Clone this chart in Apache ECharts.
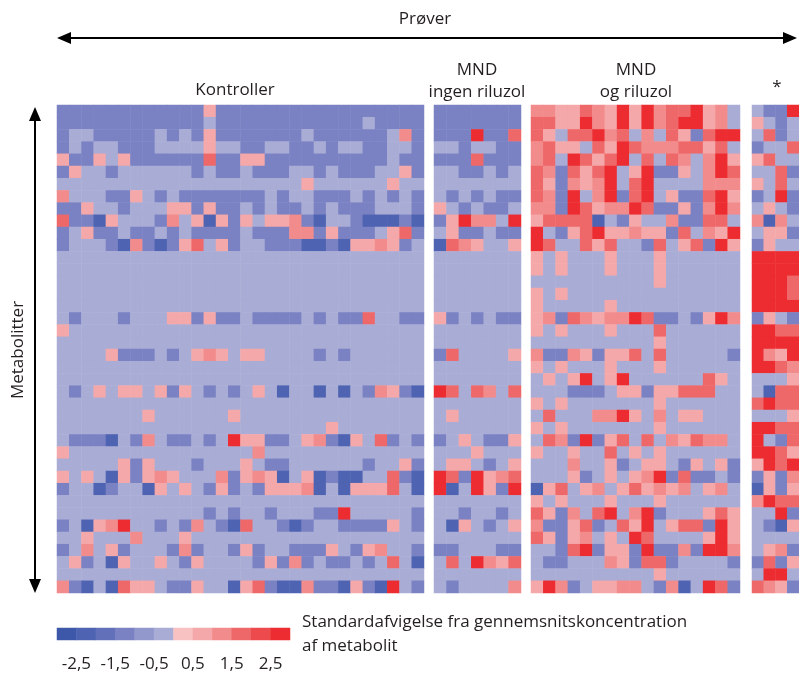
<!DOCTYPE html>
<html><head><meta charset="utf-8">
<script src="https://cdn.jsdelivr.net/npm/echarts@6/dist/echarts.min.js"></script>
<style>html,body{margin:0;padding:0;background:#fff}#c{width:799px;height:676px}</style>
</head><body><div id="c"></div>
<script>
// ---- data (standard deviations from mean concentration) ----
const groupTitles = ['Kontroller', 'MND\ningen riluzol', 'MND\nog riluzol', '*'];
const axisTitleX = 'Prøver';
const axisTitleY = 'Metabolitter';
const legendTitle = 'Standardafvigelse fra gennemsnitskoncentration\naf metabolit';
const legendTicks = ['-2,5', '-1,5', '-0,5', '0,5', '1,5', '2,5'];
const legendValues = [-2.75, -2.25, -1.75, -1.25, -0.75, -0.25, 0.25, 0.75, 1.25, 1.75, 2.25, 2.75];
const pieceEdges = [-3, -2.5, -2, -1.5, -1, -0.5, 0, 0.5, 1, 1.5, 2, 2.5, 3];

const kontroller = [
[-1,-1,-1,-1,-1,-1,-1,-1,-1,-1,-1,-1,1,-1,-1,-1,-1,-1,-1,-1,-1,-1,-1,-1,-1,-1,-1,-1,-1,-1],
[-1,-1,-1,-1,-1,-1,-1,-1,-1,-1,-1,-1,0,-1,-1,-1,-1,-1,-1,-1,-1,-1,-1,-1,-1,0,-1,-1,-1,-1],
[-1,0,0,-1,-1,-1,-1,-1,0,-1,0,-1,1,-1,-1,-1,-1,-1,-1,-1,0,-1,-1,-1,-1,-1,-1,0,1.5,-1],
[-1,0,-1,0,0,-1,-1,-1,0,0,0,0,1,0,0,-1,-1,0,0,-1,-1,0,-1,0,0,-1,-1,0,0,-1],
[1,-1,-1,1,0,1,-1,-1,-1,-1,-1,-1,2,-1,-1,1,1,-1,-1,-1,-1,-1,-1,-1,-1,-1,-1,0,-1,-1],
[-1,1,0,0,-1,0,0,0,0,0,0,-1,0,-1,-1,0,-1,-1,-1,0,0,-1,0,-1,-1,-1,0,0,1,-1],
[0,0,0,0,0,0,0,0,0,0,0,0,0,0,0,0,0,0,0,0,1,0,0,0,0,0,0,1,0,0],
[1.5,0,0,0,-1,-1,1,0,-1,0,-1,-1,-1,-1,-1,-1,-1,0,-1,0,0,-1,-1,-1,0,-1,0,-1,0,-1],
[-1,-1,1,0,0,-1,0,0,0,1,1,-1,1,-1,-1,0,-1,0,-1,-1,0,-1,0,-1,-1,-1,0,0,0,-1],
[2,-1,-1,-2,1,0,0,0,-1,1.5,0,1,-2,1,-1,1,0,1,1,1.5,-1,-2,0,0,-1,-2,-2,-2,-1,-2],
[-1,0,1,-1,-1,0,-1,-1,0,-1,0,-1,-1,-1,-1,0,-1,-1,-1,1.5,1.5,-1,1,-1,-1,-1,0,1,2,-1],
[-1,0,0,0,-1,-2,1.5,-1,-2,-1,1,2,0,1,-1,0,0,-1,-1,-1,-2,-2,-1,-2,1,1,1.5,1,-1,0],
[0,0,0,0,0,0,0,0,0,0,0,0,0,0,0,0,0,0,0,0,0,0,0,0,0,0,0,0,0,0],
[0,0,0,0,0,0,0,0,0,0,0,0,0,0,0,0,0,0,0,0,0,0,0,0,0,0,0,0,0,0],
[0,0,0,0,0,0,0,0,0,0,0,0,0,0,0,0,0,0,0,0,0,0,0,0,0,0,0,0,0,0],
[0,0,0,0,0,0,0,0,0,0,0,0,0,0,0,0,0,0,0,0,0,0,0,0,0,0,0,0,0,0],
[0,0,0,0,0,0,0,0,0,0,0,0,0,0,0,0,0,0,0,0,0,0,0,0,0,0,0,0,0,0],
[0,-1,0,0,0,-1,0,0,0,1,1,-1,1,-1,-1,0,-1,-1,-1,-1,0,-1,0,-1,-1,2,0,0,-1,-1],
[1,0,0,0,0,0,0,0,0,0,0,0,0,0,0,0,0,0,0,0,0,0,0,0,0,0,0,0,0,0],
[0,0,0,0,0,0,0,0,0,0,0,0,0,0,0,0,0,0,0,0,0,0,0,0,0,0,0,0,0,0],
[0,0,0,0,1,-1,-1,-1,0,-1,0,1,1.5,1,0,1,1,0,0,0,0,-1,0,-1,0,0,0,0,0,0],
[0,0,0,0,0,0,0,0,0,0,0,0,0,0,0,0,0,0,0,0,0,0,0,0,0,0,0,0,0,0],
[0,0,0,0,0,0,0,0,0,0,0,0,0,0,0,0,0,0,0,0,0,0,0,0,0,0,0,0,0,0],
[0,-1,0,1,0,1,1,0,1,-1,1,0,-1,0,-1,0,1,0,-2,0,0,-2,0,-2,0,-1,1.5,1,-1,-2],
[0,0,0,0,0,0,0,0,0,0,0,0,0,0,0,0,0,0,0,0,0,0,0,0,0,0,0,0,0,0],
[0,0,0,0,0,0,0,1,0,0,0,0,0,0,1,0,0,0,0,0,0,0,0,0,0,0,0,0,0,0],
[0,0,0,0,0,0,0,0,0,0,0,0,0,0,0,0,0,0,0,0,0,0,1,0,0,0,0,0,0,0],
[0,-1,-1,-1,-2,0,-1,1.5,0,-1,-1,0,-1,0,3,1,1,-1,-1,0,1,1.5,-1,-2,1,0,2,-1,0,-1],
[1,0,0,0,0,0,0,0,0,0,0,0,0,0,0,0,1.5,0,0,0,0,0,0,0,0,0,0,0,0,0],
[0,0,0,0,0,1,-1,1,0,0,0,-1,0,0,0,1,0,-1,-1,0,0,0,0,0,0,-1,0,0,1,-1],
[1,0,1,0,-2,1,-1,1,1.5,1,0,0,0,1.5,-1,1,1.5,1,-2,0,1,-2,-1,-2,-2,0,0,2,-1,-2],
[-1,0,0,-2,-1,0,0,-2,1,0,1,0,-1,1,-1,0,-1,1,1,1,1.5,-2,0,-2,1,1,1,2,0,-2],
[0,0,0,0,0,0,0,0,0,0,0,0,0,0,0,0,0,0,0,0,0,0,0,0,0,0,0,0,0,0],
[0,0,0,0,0,0,0,0,0,0,0,0,-1,0,-1,0,0,-1,0,0,0,-1,-1,3,0,0,0,0,0,-1],
[-1,0,-2,1,1.5,3,0,0,-1,0,-1,1.5,0,-1,-2,2,0,0,-1,-2,-1,0,0,-1,-1,-1,-1,1,0,-1],
[0,0,1,0,0,0,1.5,0,0,0,1,0,0,0,0,0,0,0,0,0,0,0,0,0,0,0,0,0,0,0],
[-1,0,1.5,0,1,-1,0,0,0,-1,1.5,-1,0,0,-1,1,-1,0,0,-1,-1,-1,1,0,-1,1,1.5,0,0,-1],
[0,1,-1,0,-2,1,0,0,1,0,-1,1,0,0,0,0,-1,1,-1,1.5,-1,0,-1,-1,0,-1,0,2,0,-2],
[0,0,0,0,0,0,0,0,0,0,0,0,0,0,0,0,0,0,0,0,0,0,0,0,0,0,0,0,0,0],
[1.5,-1,-2,0,-2,2,1,1,0,-1,-1,1,0,0,-2,1,2,-1,-2,-2,1.5,-1,-1,-2,1,-1,-2,3,0,-1]
];

const mndUdenRiluzol = [
[-1,-1,-1,-1,-1,-1,-1],[-1,-1,-1,-1,-1,-1,-1],[-1,-1,-1,3,-1,-1,2],[0,0,-1,0,0,-1,-1],
[-1,-1,-1,2,-1,-1,-1],[0,0,-1,-1,0,-1,0],[0,0,0,0,0,0,0],[0,-1,0,-1,0,-1,-1],
[1,0,-1,0,-1,-1,0],[-1,1,3,1.5,1.5,0,3],[0,1,-1,-1,0,-1,-1],[-2,2,1.5,1,0,0,1],
[0,0,0,0,0,0,0],[0,0,0,0,0,0,0],[0,0,0,0,0,0,0],[0,0,0,0,0,0,0],
[0,0,0,0,0,0,0],[1,-1,0,-1,0,-1,-1],[0,0,0,0,0,0,0],[0,0,0,0,0,0,0],
[-1,2,0,0,0,0,1],[0,0,0,0,0,0,0],[0,0,0,0,0,0,0],[3,2,0,2,1.5,0,2],
[0,0,0,0,0,0,0],[0,1,0,0,0,0,0],[0,0,0,0,0,0,0],[-1,0,1,0,-1,-1,1],
[0,0,0,1,0,0,0],[0,1,1,0,-1,0,1],[3,2,-1,3,1,1.5,2],[3,-2,0,3,1,-1,3],
[0,0,0,0,0,0,0],[0,0,-1,0,0,-1,0],[0,-2,1,0,-1,0,1],[0,0,0,0,0,0,0],
[-1,-1,0,0,0,-1,-1],[0,2,0,3,1.5,1,2],[0,0,0,0,0,0,0],[0,-1,0,0,0,0,1.5]
];

const mndMedRiluzol = [
[1.5,1.5,1,1,2,1.5,1,3,1,3,1.5,2,2,3,1,1.5,0],
[2,2,1,1,3,1.5,1,3,1,3,1.5,2,3,3,1,1.5,0],
[2,1,0,2,2,3,1.5,2,0,1.5,0,2,1,-1,2,3,3],
[1.5,2,1,1,0,2,1,3,2,1.5,1.5,1.5,2,2,1,2,0],
[1.5,2,0,3,2,1,2,3,0,2,0,2,1.5,0,1.5,3,1],
[2,1.5,-1,2,1,2,3,0,1,3,-1,-1,1,0,1.5,3,2],
[2,1,-1,1.5,1,1.5,3,0,2,3,0,0,0,0,1.5,1.5,1.5],
[2,1.5,-1,3,0,1.5,3,-1,2,3,0,1,-1,-1,2,3,1],
[1.5,1.5,-1,3,2,1,1.5,1.5,3,2,-1,-1,1,-1,1.5,3,1.5],
[1,2,2,2,2,-2,0,-1,1,0,0,1.5,-1,-1,2,2,0],
[3,0,-1,1,2,3,1,1,1.5,1,1,-1,2,0,1.5,1,3],
[3,2,0,0,2,1,2,0,0,-1,2,0,1,2,-1,3,1],
[1,0,1,0,0,0,1,0,0,0,1,0,0,0,0,0,0],
[1,0,1,0,0,0,1,0,0,0,1,0,0,0,0,0,0],
[0,0,0,0,0,0,0,0,0,0,1,0,0,0,0,0,0],
[1,0,1,0,0,0,0,0,0,0,0,0,0,0,0,0,0],
[1,0,0,0,0,0,1,0,0,0,0,0,0,0,0,0,0],
[1,1.5,-1,2,1.5,1,1.5,1.5,3,2,-1,-1,0,-1,1,3,1.5],
[1,0,1,0,0,0,1,0,0,0,2,0,0,0,0,0,0],
[0,0,0,0,0,0,0,0,0,0,1,0,0,0,0,0,0],
[1.5,-1,-1,1.5,1,-1,1,1,2,0,2,0,0,0,0,0,-1],
[1,0,1,0,0,0,1,0,0,0,1,0,0,0,0,0,0],
[0,1,0,1,3,0,1,3,0,0,0,0,0,0,2,1,0],
[0,0,0,-1,-1,-1,0,1,1,-1,1,1,2,2,2,0,0],
[1,0,1,0,0,0,0,0,0,0,1,0,0,0,0,0,0],
[0,2,0,0,0,1.5,1.5,3,1,0,1.5,0,1,1,0,0,0],
[1,0,1,0,0,0,0,0,0,0,1,0,0,0,0,0,0],
[0,2,1.5,-1,3,-1,1,2,0,2,0,1.5,1,2,1.5,1.5,0],
[1,0,0,1,0,0,2,0,1,0,1,0,0,0,0,0,0],
[0,0,0,1.5,0,0,1,-1,0,1,1,0,-1,1,0,1,-1],
[0,0,0,1,-1,0,1,0,1,1.5,3,-1,2,-1,-1,0,-1],
[-2,1,2,0,1,1.5,0,1,2,1,1.5,1,1.5,0,1,1.5,0],
[1,0,1,0,0,0,1,0,0,0,1,0,0,0,0,0,0],
[2,1,-1,1.5,0,2,3,0,1.5,3,-1,0,0,0,1,2,1],
[1.5,-1,-1,1,2,-1,0,2,1,3,0,1,2,2,-1,3,1],
[2,1,-1,1,1.5,0,1,0,3,2,0,0,0,0,1,3,1],
[0,0,-1,2,3,-1,1,1,-1,3,-1,-1,1.5,-1,3,3,1.5],
[0,-1,-1,0,0,0,1.5,1,-1,2,2,-1,0,0,0,0,-1],
[0,0,0,0,0,0,0,0,0,0,1,0,0,0,0,0,0],
[1,3,1.5,-1,0,1,1,1.5,1.5,0,-1,1.5,-2,0,3,2,-1]
];

const stjerne = [
[0,-1,-1,3],[1,0,-1,0],[0,2,-1,0],[-1,0,0,2],[1,2,0,0],[0,0,2,-1],[1,0,2,0],[-1,0,3,-1],
[0,1,0,-1],[1.5,-2,1.5,0],[0,1,1,-1],[-1,1,0,0],[3,3,3,3],[3,3,3,3],[3,3,3,2],[3,3,3,2],
[3,3,3,3],[-1,1,0,-1],[3,3,2,2],[3,3,3,3],[3,1.5,1,3],[3,3,2,1.5],[0,0,0,1],[0,-2,2,2],
[2,3,2,2],[0,0,0,1],[3,3,2,2],[3,0,-1,2],[3,3,2,1],[1,3,2,3],[-1,1,-1,1.5],[-2,1,-1,1],
[1.5,3,2,2],[0,0,3,-1],[0,-1,-2,1],[0,0,0,0],[0,1,1.5,-1],[-1,2,-1,1],[0,3,3,0],[2,1.5,1,-1]
];

// ---- styling ----
const pieceColors = ['#3d58a8','#4e63b1','#6270ba','#7a82c3','#9298cc','#a9acd5',
                     '#f8c2c2','#f5a8a9','#f28b8c','#ef6869','#ed4a4d','#ec2c30'];
const FONT = '"Open Sans", "Noto Sans", sans-serif';
const FONT_SIZE = 17;
const TXT = '#231f20';

const groupMatrices = [kontroller, mndUdenRiluzol, mndMedRiluzol, stjerne];
const groupBoxes = [
  {left: 57, width: 367},
  {left: 434, width: 87},
  {left: 531, width: 209},
  {left: 752, width: 49}
];
const TOP = 105, HEIGHT = 488;
const nRows = kontroller.length;
const rowNames = Array.from({length: nRows}, (_, i) => 'Metabolit ' + (i + 1));

const grids = [], xAxes = [], yAxes = [], series = [];
groupMatrices.forEach((m, g) => {
  grids.push({left: groupBoxes[g].left, top: TOP, width: groupBoxes[g].width, height: HEIGHT, containLabel: false});
  const nCols = m[0].length;
  xAxes.push({type: 'category', gridIndex: g, data: Array.from({length: nCols}, (_, i) => 'P' + g + '-' + (i + 1)), show: false});
  yAxes.push({type: 'category', gridIndex: g, data: rowNames, inverse: true, show: false});
  const cells = [];
  m.forEach((row, r) => row.forEach((v, c) => cells.push([c, r, v])));
  series.push({type: 'heatmap', xAxisIndex: g, yAxisIndex: g, data: cells, progressive: 0,
               itemStyle: {borderWidth: 0}, emphasis: {disabled: true}});
});

// legend grid
grids.push({left: 57, top: 628, width: 233, height: 12, containLabel: false});
xAxes.push({type: 'category', gridIndex: 4, data: legendValues.map(String), show: false});
xAxes.push({type: 'category', gridIndex: 4, position: 'bottom', data: legendTicks,
  axisLine: {show: false}, axisTick: {show: false},
  axisLabel: {fontSize: FONT_SIZE, fontFamily: FONT, color: TXT, margin: 16}});
yAxes.push({type: 'category', gridIndex: 4, data: ['skala'], show: false});
series.push({type: 'heatmap', xAxisIndex: 4, yAxisIndex: 4, progressive: 0,
  data: legendValues.map((v, i) => [i, 0, v]), emphasis: {disabled: true}});

const pieces = pieceColors.map((col, i) => i === 0
  ? {gte: pieceEdges[0], lte: pieceEdges[1], color: col}
  : {gt: pieceEdges[i], lte: pieceEdges[i + 1], color: col});

function txt(text, x, y, opts) {
  return Object.assign({type: 'text', x: x, y: y, silent: true,
    style: Object.assign({text: text, fill: TXT, font: FONT_SIZE + 'px ' + FONT,
      align: 'center', verticalAlign: 'middle', textAlign: 'center', textVerticalAlign: 'middle', lineHeight: 22}, (opts && opts.style) || {})},
    opts && opts.rotation !== undefined ? {rotation: opts.rotation} : {});
}

const arrowStyle = {fill: '#000', stroke: null};
const graphics = [
  txt(axisTitleX, 425, 19),
  {type: 'line', silent: true, shape: {x1: 66, y1: 38, x2: 788, y2: 38}, style: {stroke: '#000', lineWidth: 2}},
  {type: 'polygon', silent: true, shape: {points: [[57, 38], [71, 32], [71, 44]]}, style: arrowStyle},
  {type: 'polygon', silent: true, shape: {points: [[797, 38], [783, 32], [783, 44]]}, style: arrowStyle},
  {type: 'line', silent: true, shape: {x1: 35, y1: 117, x2: 35, y2: 583}, style: {stroke: '#000', lineWidth: 2}},
  {type: 'polygon', silent: true, shape: {points: [[35, 107], [29, 121], [41, 121]]}, style: arrowStyle},
  {type: 'polygon', silent: true, shape: {points: [[35, 593], [29, 579], [41, 579]]}, style: arrowStyle},
  txt(axisTitleY, 18, 350, {rotation: Math.PI / 2}),
  txt(groupTitles[0], 235, 90),
  txt(groupTitles[1], 477, 81),
  txt(groupTitles[2], 636, 81),
  txt(groupTitles[3], 777, 87),
  txt(legendTitle, 302, 634, {style: {align: 'left', textAlign: 'left', lineHeight: 24}})
];

const chart = echarts.init(document.getElementById('c'), null, {renderer: 'canvas'});
chart.setOption({
  animation: false,
  backgroundColor: '#fff',
  grid: grids, xAxis: xAxes, yAxis: yAxes,
  visualMap: {type: 'piecewise', show: false, pieces: pieces, seriesIndex: [0, 1, 2, 3, 4]},
  series: series,
  graphic: graphics
});
</script>
</body></html>
